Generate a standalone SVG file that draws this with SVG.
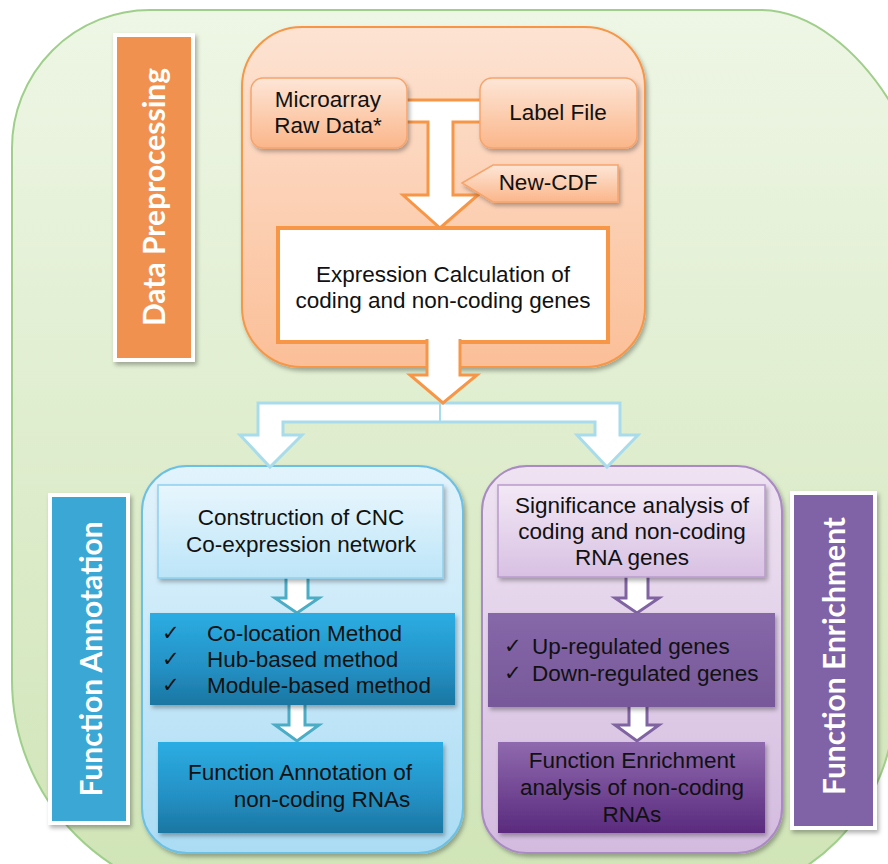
<svg xmlns="http://www.w3.org/2000/svg" width="888" height="864" viewBox="0 0 888 864">
<defs>
<linearGradient id="gBg" x1="0" y1="0" x2="0" y2="1"><stop offset="0" stop-color="#eef6e5"/><stop offset="1" stop-color="#cfe4b6"/></linearGradient>
<linearGradient id="gOr" x1="0" y1="0" x2="0" y2="1"><stop offset="0" stop-color="#fde3d3"/><stop offset="1" stop-color="#fbbf98"/></linearGradient>
<linearGradient id="gOrBox" x1="0" y1="0" x2="0" y2="1"><stop offset="0" stop-color="#fde6d7"/><stop offset="1" stop-color="#fbb68a"/></linearGradient>
<linearGradient id="gBl" x1="0" y1="0" x2="0" y2="1"><stop offset="0" stop-color="#e2f3fc"/><stop offset="1" stop-color="#abdcf4"/></linearGradient>
<linearGradient id="gBlLight" x1="0" y1="0" x2="0" y2="1"><stop offset="0" stop-color="#e8f6fd"/><stop offset="1" stop-color="#bce5f8"/></linearGradient>
<linearGradient id="gBlDark" x1="0" y1="0" x2="0" y2="1"><stop offset="0" stop-color="#2badE3"/><stop offset="0.6" stop-color="#2490c4"/><stop offset="1" stop-color="#1b76a2"/></linearGradient>
<linearGradient id="gPu" x1="0" y1="0" x2="0" y2="1"><stop offset="0" stop-color="#efe3f2"/><stop offset="1" stop-color="#d3bbdf"/></linearGradient>
<linearGradient id="gPuLight" x1="0" y1="0" x2="0" y2="1"><stop offset="0" stop-color="#f3e9f6"/><stop offset="1" stop-color="#d8c0e3"/></linearGradient>
<linearGradient id="gPuMid" x1="0" y1="0" x2="0" y2="1"><stop offset="0" stop-color="#8668a9"/><stop offset="1" stop-color="#775899"/></linearGradient>
<linearGradient id="gPuDark" x1="0" y1="0" x2="0" y2="1"><stop offset="0" stop-color="#8f6aae"/><stop offset="1" stop-color="#5a2a7e"/></linearGradient>
<filter id="sh" x="-10%" y="-10%" width="130%" height="130%"><feDropShadow dx="2" dy="3" stdDeviation="2" flood-color="#000" flood-opacity="0.3"/></filter>
<style>
.t{font-family:"Liberation Sans",Arial,sans-serif;font-size:22.5px;fill:#111;text-anchor:middle}
.tl{font-family:"Liberation Sans",Arial,sans-serif;font-size:22.5px;fill:#111}
.ck{font-family:"DejaVu Sans",sans-serif;font-size:21px;fill:#111}
.side{font-family:Lato,"Open Sans",sans-serif;font-weight:bold;font-size:30px;fill:#fff;text-anchor:middle}
.lab{stroke:#fff;stroke-width:4;filter:url(#sh)}
</style>
</defs>
<rect width="888" height="864" fill="#fff"/>
<g id="background">
<path d="M150,10 H760 C810,10 860,50 895,110 V700 A200 200 0 0 1 695,900 H232 A220 220 0 0 1 12,680 V148 A138 138 0 0 1 150,10 Z" fill="url(#gBg)" stroke="#9fcf8a" stroke-width="2"/>
</g>
<g id="label-data-preprocessing">
<rect class="lab" x="115" y="35" width="78" height="325" fill="#f1914f"/>
<text class="side" transform="translate(165,197) rotate(-90)">Data Preprocessing</text>
</g>
<g id="label-function-annotation">
<rect class="lab" x="50" y="495" width="78" height="328" fill="#3aa7d4"/>
<text class="side" transform="translate(102,659) rotate(-90)">Function Annotation</text>
</g>
<g id="label-function-enrichment">
<rect class="lab" x="792" y="493" width="83" height="335" fill="#8063a7"/>
<text class="side" transform="translate(845,656) rotate(-90)">Function Enrichment</text>
</g>
<g id="preprocessing-container">
<rect x="242" y="27" width="403" height="340" rx="60" fill="url(#gOr)" stroke="#f79646" stroke-width="2" filter="url(#sh)"/>
</g>
<g id="blue-container">
<rect x="142" y="466" width="321" height="387" rx="45" fill="url(#gBl)" stroke="#6cc0e4" stroke-width="2" filter="url(#sh)"/>
</g>
<g id="purple-container">
<rect x="482" y="466" width="300" height="387" rx="45" fill="url(#gPu)" stroke="#a98ac2" stroke-width="2" filter="url(#sh)"/>
</g>
<g id="connectors" fill="#fff" stroke-linejoin="miter">
<path d="M400,100 H487 V122 H453 V195 H478 L440,228 L403,195 H428 V122 H400 Z" stroke="#f79646" stroke-width="3"/>
<path d="M258,403 H620 V435 H638 L607,467 L577,435 H595 V422 H283 V435 H302 L270,467 L240,435 H258 Z" stroke="#a9dcea" stroke-width="3"/>
<line x1="440" y1="403" x2="440" y2="422" stroke="#a9dcea" stroke-width="2"/>
<path d="M286,576 V598 H275 L297,613 L319,598 H308 V576" stroke="#4bacc6" stroke-width="3"/>
<path d="M289,703 V725 H275 L297,741 L319,725 H305 V703" stroke="#4bacc6" stroke-width="3"/>
<path d="M626,575 V598 H615 L637,613 L659,598 H648 V575" stroke="#8064a2" stroke-width="3"/>
<path d="M629,705 V725 H615 L637,741 L659,725 H647 V705" stroke="#8064a2" stroke-width="3"/>
</g>
<g id="microarray-raw-data">
<rect x="251" y="78" width="156" height="70" rx="12" fill="url(#gOrBox)" stroke="#f7a46c" stroke-width="1.5" filter="url(#sh)"/>
<text class="t" x="328" y="107">Microarray</text>
<text class="t" x="328" y="133">Raw Data*</text>
</g>
<g id="label-file">
<rect x="480" y="78" width="157" height="70" rx="12" fill="url(#gOrBox)" stroke="#f7a46c" stroke-width="1.5" filter="url(#sh)"/>
<text class="t" x="558" y="120">Label File</text>
</g>
<g id="new-cdf">
<polygon points="462,183 493,165 618,165 618,202 493,202" fill="url(#gOrBox)" stroke="#f7a46c" stroke-width="1.5" filter="url(#sh)"/>
<text class="t" x="548" y="190">New-CDF</text>
</g>
<g id="expression-calculation">
<rect x="278" y="228" width="330" height="114" fill="#fff" stroke="#f79646" stroke-width="4"/>
<text class="t" x="443" y="282">Expression Calculation of</text>
<text class="t" x="443" y="308">coding and non-coding genes</text>
</g>
<g id="expression-arrow">
<path d="M427,339 V375 H410 L443,403 L477,375 H460 V339" fill="#fff" stroke="#f79646" stroke-width="3"/>
</g>
<g id="cnc-network">
<rect x="158" y="485" width="285" height="93" fill="url(#gBlLight)" stroke="#8fd0ee" stroke-width="1.5" filter="url(#sh)"/>
<text class="t" x="301" y="525">Construction of CNC</text>
<text class="t" x="301" y="552">Co-expression network</text>
</g>
<g id="methods">
<rect x="150" y="613" width="305" height="92" fill="url(#gBlDark)" filter="url(#sh)"/>
<text class="ck" x="162" y="640">✓</text>
<text class="tl" x="207" y="641">Co-location Method</text>
<text class="ck" x="162" y="666">✓</text>
<text class="tl" x="207" y="667">Hub-based method</text>
<text class="ck" x="162" y="692">✓</text>
<text class="tl" x="207" y="693">Module-based method</text>
</g>
<g id="function-annotation-ncrna">
<rect x="158" y="742" width="285" height="91" fill="url(#gBlDark)" filter="url(#sh)"/>
<text class="t" x="300" y="780">Function Annotation of</text>
<text class="t" x="322" y="807">non-coding RNAs</text>
</g>
<g id="significance-analysis">
<rect x="498" y="485" width="267" height="92" fill="url(#gPuLight)" stroke="#b99bcb" stroke-width="1.5" filter="url(#sh)"/>
<text class="t" x="632" y="513">Significance analysis of</text>
<text class="t" x="632" y="539">coding and non-coding</text>
<text class="t" x="632" y="565">RNA genes</text>
</g>
<g id="regulated-genes">
<rect x="488" y="613" width="287" height="94" fill="url(#gPuMid)" filter="url(#sh)"/>
<text class="ck" x="504" y="653">✓</text>
<text class="tl" x="532" y="654">Up-regulated genes</text>
<text class="ck" x="504" y="680">✓</text>
<text class="tl" x="532" y="681">Down-regulated genes</text>
</g>
<g id="function-enrichment-ncrna">
<rect x="498" y="742" width="267" height="91" fill="url(#gPuDark)" filter="url(#sh)"/>
<text class="t" x="632" y="768">Function Enrichment</text>
<text class="t" x="632" y="795">analysis of non-coding</text>
<text class="t" x="632" y="822">RNAs</text>
</g>
</svg>
